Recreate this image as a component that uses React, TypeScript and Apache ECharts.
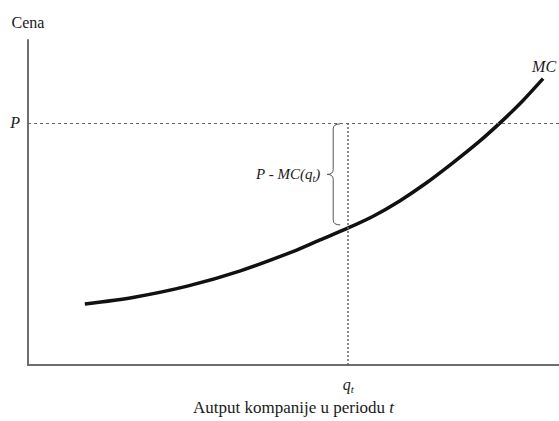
import React, { useEffect, useRef } from "react";
import * as echarts from "echarts";

// MC curve (output, price)
const curveX = [1.07, 2, 3, 4, 5, 5.5, 6.03, 6.5, 7, 7.5, 8, 8.5, 8.89, 9.3, 9.7];
const curveY = [1.88, 2.09, 2.43, 2.9, 3.5, 3.85, 4.22, 4.58, 5.05, 5.6, 6.22, 6.88, 7.45, 8.1, 8.81];
const priceP = 7.45;
const outputQt = 6.03;
const mcAtQt = 4.22;
const yTickLabels = ["P"];
const xTickLabels = ["{q|q}{t|t}"];
const yAxisName = "Cena";
const xAxisName = "Autput kompanije u periodu {i|t}";
const curveName = "MC";

const SERIF = "'Liberation Serif', 'DejaVu Serif', serif";

export default function App() {
  const ref = useRef<HTMLDivElement>(null);
  useEffect(() => {
    if (!ref.current) return;
    const chart = echarts.init(ref.current, undefined, { renderer: "svg" });
    const axisLine = { show: true, lineStyle: { color: "#6e6e6e", width: 2 } };
    chart.setOption({
      animation: false,
      backgroundColor: "#ffffff",
      grid: { left: 28, right: 0, top: 40, bottom: 52, containLabel: false },
      xAxis: {
        type: "value",
        min: 0,
        max: 10,
        axisLine,
        axisTick: { show: false },
        splitLine: { show: false },
        axisLabel: {
          customValues: [outputQt],
          formatter: () => xTickLabels[0],
          margin: 9,
          rich: {
            q: { fontFamily: SERIF, fontStyle: "italic", fontSize: 16, color: "#1a1a1a" },
            t: { fontFamily: SERIF, fontStyle: "italic", fontSize: 11, color: "#1a1a1a", padding: [9, 0, 0, 0] },
          },
        },
        name: xAxisName,
        nameLocation: "middle",
        nameGap: 25,
        nameTextStyle: {
          fontFamily: SERIF,
          fontSize: 17,
          color: "#1a1a1a",
          rich: { i: { fontFamily: SERIF, fontSize: 17, fontStyle: "italic", color: "#1a1a1a" } },
        },
      },
      yAxis: {
        type: "value",
        min: 0,
        max: 10,
        axisLine,
        axisTick: { show: false },
        splitLine: { show: false },
        axisLabel: {
          customValues: [priceP],
          formatter: () => yTickLabels[0],
          margin: 8,
          fontFamily: SERIF,
          fontStyle: "italic",
          fontSize: 16,
          color: "#1a1a1a",
        },
        name: yAxisName,
        nameLocation: "end",
        nameGap: 10,
        nameTextStyle: { fontFamily: SERIF, fontSize: 16, color: "#1a1a1a", align: "center" },
      },
      series: [
        {
          type: "line",
          name: curveName,
          data: curveX.map((x, i) => [x, curveY[i]]),
          smooth: 0.3,
          showSymbol: false,
          lineStyle: { color: "#111", width: 3.5 },
          endLabel: {
            show: true,
            formatter: curveName,
            fontFamily: SERIF,
            fontStyle: "italic",
            fontSize: 16,
            color: "#1a1a1a",
            offset: [-19, -12],
          },
          markLine: {
            silent: true,
            symbol: "none",
            label: { show: false },
            data: [
              [
                { coord: [0, priceP], lineStyle: { color: "#666", width: 1, type: [3, 3] } },
                { coord: [10, priceP] },
              ],
              [
                { coord: [outputQt, priceP], lineStyle: { color: "#666", width: 1.5, type: [2, 2] } },
                { coord: [outputQt, 0] },
              ],
            ],
          },
          z: 3,
        },
        {
          type: "custom",
          coordinateSystem: "cartesian2d",
          silent: true,
          data: [[outputQt, priceP, mcAtQt]],
          encode: { x: 0, y: [1, 2] },
          renderItem: (params: any, api: any) => {
            const top = api.coord([api.value(0), api.value(1)]);
            const bot = api.coord([api.value(0), api.value(2)]);
            const x0 = top[0] - 15;
            const yT = top[1] + 1;
            const yB = bot[1] - 3;
            const yM = (yT + yB) / 2;
            const r = 5;
            const tip = x0 - 6;
            const d =
              `M${x0 + 7} ${yT} Q${x0} ${yT} ${x0} ${yT + r} ` +
              `L${x0} ${yM - r} Q${x0} ${yM} ${tip} ${yM} ` +
              `Q${x0} ${yM} ${x0} ${yM + r} L${x0} ${yB - r} ` +
              `Q${x0} ${yB} ${x0 + 7} ${yB}`;
            return {
              type: "group",
              children: [
                {
                  type: "path",
                  shape: { pathData: d },
                  style: { stroke: "#555", fill: "none", lineWidth: 1 },
                },
                {
                  type: "text",
                  x: tip - 7,
                  y: yM,
                  style: {
                    text: "{a|P - MC(}{b|q}{c|t}{a|)}",
                    align: "right",
                    verticalAlign: "middle",
                    rich: {
                      a: { fontFamily: SERIF, fontStyle: "italic", fontSize: 15, fill: "#1a1a1a" },
                      b: { fontFamily: SERIF, fontStyle: "italic", fontSize: 15, fill: "#1a1a1a" },
                      c: { fontFamily: SERIF, fontStyle: "italic", fontSize: 10, fill: "#1a1a1a", padding: [8, 0, 0, 0] },
                    },
                  },
                },
              ],
            };
          },
          z: 4,
        },
      ],
    });
    return () => chart.dispose();
  }, []);
  return (
    <div
      ref={ref}
      style={{ position: "fixed", left: 0, top: 0, width: 559, height: 421, background: "#fff" }}
    />
  );
}
